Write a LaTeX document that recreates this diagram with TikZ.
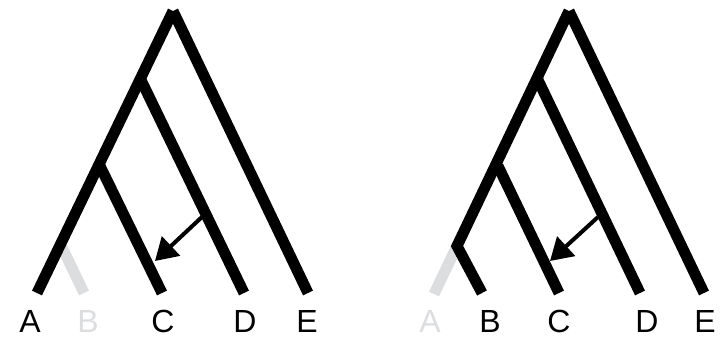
\documentclass[tikz,border=0pt]{standalone}
\usepackage{fontspec}
\setmainfont{Liberation Sans}
\usetikzlibrary{arrows.meta}
\definecolor{fadegray}{RGB}{220,221,223}

\begin{document}
\begin{tikzpicture}[x=1pt,y=-1pt]
\tikzstyle{br}=[line width=11pt, line cap=butt, line join=miter]
\tikzstyle{gone}=[br, draw=fadegray]
\tikzstyle{taxon}=[font=\fontsize{32}{32}\selectfont, inner sep=0pt]
\tikzstyle{move}=[-{Triangle[length=22pt,width=26pt]}, line width=4pt]
\useasboundingbox (0,0) rectangle (724,339);
% left tree: B lost
\coordinate (lroot) at (173,11);
\coordinate (lnD) at (141,80);
\coordinate (lnC) at (100,166);
\coordinate (lnB) at (61,245);
\coordinate (lA) at (37,293);
\coordinate (lB) at (84,293);
\coordinate (lC) at (162,293);
\coordinate (lD) at (244,293);
\coordinate (lE) at (308,293);
\coordinate (lfrom) at (203,216);
\coordinate (lto) at (155,261);
\draw[gone] (lnB) -- (lB);
\draw[br] (lA) -- (lroot);
\draw[br] (lroot) -- (lE);
\draw[br] (lnD) -- (lD);
\draw[br] (lnC) -- (lC);
\draw[move] (lfrom) -- (lto);
\node[taxon] (lla) at (30,321) {A};
\node[taxon, text=fadegray] (llb) at (88,321) {B};
\node[taxon] (llc) at (163,321) {C};
\node[taxon] (lld) at (245,321) {D};
\node[taxon] (lle) at (307,321) {E};
% right tree: A lost
\coordinate (rroot) at (569,11);
\coordinate (rnD) at (538,80);
\coordinate (rnC) at (498,166);
\coordinate (rnB) at (457,246);
\coordinate (rA) at (434,294);
\coordinate (rB) at (482,293);
\coordinate (rC) at (559,293);
\coordinate (rD) at (640,293);
\coordinate (rE) at (704,293);
\coordinate (rfrom) at (598,217);
\coordinate (rto) at (550,261);
\draw[gone] (rnB) -- (rA);
\draw[br] (rroot) -- (rnB) -- (rB);
\draw[br] (rroot) -- (rE);
\draw[br] (rnD) -- (rD);
\draw[br] (rnC) -- (rC);
\draw[move] (rfrom) -- (rto);
\node[taxon, text=fadegray] (rla) at (430,321) {A};
\node[taxon] (rlb) at (490,321) {B};
\node[taxon] (rlc) at (559,321) {C};
\node[taxon] (rld) at (647,321) {D};
\node[taxon] (rle) at (705,321) {E};
\end{tikzpicture}
\end{document}
